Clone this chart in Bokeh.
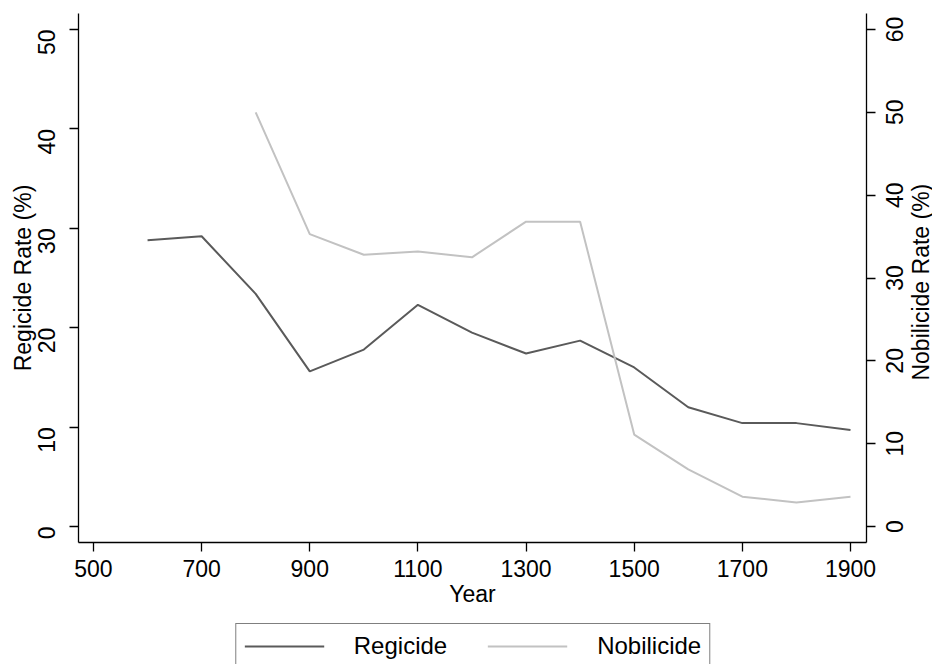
import math

from bokeh.core.properties import value
from bokeh.embed import file_html
from bokeh.layouts import column, row
from bokeh.models import (ColumnDataSource, Legend, LegendItem, LinearAxis,
                          Range1d)
from bokeh.plotting import figure
from bokeh.resources import INLINE

# Rates per century (%)
years = [600, 700, 800, 900, 1000, 1100, 1200, 1300, 1400, 1500, 1600, 1700, 1800, 1900]
regicide = [28.8, 29.2, 23.4, 15.6, 17.8, 22.3, 19.5, 17.4, 18.7, 16.0, 12.0, 10.4, 10.4, 9.7]

nob_years = [800, 900, 1000, 1100, 1200, 1300, 1400, 1500, 1600, 1700, 1800, 1900]
nobilicide = [50.0, 35.3, 32.8, 33.2, 32.5, 36.8, 36.8, 11.1, 6.9, 3.6, 2.9, 3.6]

x_ticks = [500, 700, 900, 1100, 1300, 1500, 1700, 1900]
left_ticks = [0, 10, 20, 30, 40, 50]
right_ticks = [0, 10, 20, 30, 40, 50, 60]

FONT = "Liberation Sans"
DARK = "#5a5a5a"
LIGHT = "#c2c2c2"
FS = "23px"

TOP, BOTTOM = 13, 80          # borders shared by the plot and its right-hand label strip
FRAME_W, FRAME_H = 788, 529
LEFT, RIGHT = 78, 12
SIDE_W = 932 - (LEFT + FRAME_W + RIGHT)
LEGEND_H = 664 - (TOP + FRAME_H + BOTTOM)

x_range = Range1d(472.3, 1929.6)
y_range = Range1d(-1.61, 51.61)
nob_range = Range1d(-1.93, 61.93)

reg_src = ColumnDataSource(dict(x=years, y=regicide))
nob_src = ColumnDataSource(dict(x=nob_years, y=nobilicide))

# ---- main plot -------------------------------------------------------------
p = figure(
    frame_width=FRAME_W, frame_height=FRAME_H,
    x_range=x_range, y_range=y_range,
    output_backend="svg", toolbar_location=None,
    min_border_left=LEFT, min_border_right=RIGHT,
    min_border_top=TOP, min_border_bottom=BOTTOM,
)
p.extra_y_ranges = {"nob": nob_range}
p.outline_line_color = None
p.xgrid.visible = False
p.ygrid.visible = False

p.line("x", "y", source=reg_src, line_color=DARK, line_width=2)
p.line("x", "y", source=nob_src, line_color=LIGHT, line_width=2, y_range_name="nob")

right = LinearAxis(y_range_name="nob")
p.add_layout(right, "right")


def style_axis(ax, ticks):
    ax.ticker = ticks
    ax.axis_line_color = "black"
    ax.axis_line_width = 1.3
    ax.major_tick_line_color = "black"
    ax.major_tick_line_width = 1.3
    ax.major_tick_out = 9
    ax.major_tick_in = 0
    ax.minor_tick_line_color = None
    ax.major_label_text_font = FONT
    ax.major_label_text_font_size = FS
    ax.major_label_text_color = "black"
    ax.axis_label_text_font = FONT
    ax.axis_label_text_font_size = FS
    ax.axis_label_text_font_style = "normal"
    ax.axis_label_text_color = "black"


xa = p.xaxis[0]
style_axis(xa, x_ticks)
xa.axis_label = "Year"
xa.major_label_standoff = 8
xa.axis_label_standoff = 1

la = p.yaxis[0]
style_axis(la, left_ticks)
la.axis_label = "Regicide Rate (%)"
la.major_label_orientation = math.pi / 2
la.major_label_text_align = "center"
la.major_label_standoff = 23
la.axis_label_standoff = -9

# right axis keeps its line and ticks; its rotated labels sit in the strip beside it
style_axis(right, right_ticks)
right.major_label_overrides = {t: "" for t in right_ticks}
right.major_label_standoff = 0

# ---- right-hand label strip (shares the nobilicide scale) ------------------
side = figure(
    width=SIDE_W, height=TOP + FRAME_H + BOTTOM,
    x_range=Range1d(0, SIDE_W), y_range=nob_range,
    output_backend="svg", toolbar_location=None,
    min_border_left=0, min_border_right=0,
    min_border_top=TOP, min_border_bottom=BOTTOM,
)
side.axis.visible = False
side.grid.visible = False
side.outline_line_color = None

tick_src = ColumnDataSource(dict(
    x=[894 - (LEFT + FRAME_W + RIGHT)] * len(right_ticks),
    y=right_ticks,
    text=[str(t) for t in right_ticks],
))
side.text("x", "y", text="text", source=tick_src, angle=math.pi / 2,
          text_align="center", text_baseline="middle",
          text_font=value(FONT), text_font_size=value(FS), text_color="black")
title_src = ColumnDataSource(dict(
    x=[920 - (LEFT + FRAME_W + RIGHT)],
    y=[(nob_range.start + nob_range.end) / 2 - 0.5],
    text=["Nobilicide Rate (%)"],
))
side.text("x", "y", text="text", source=title_src, angle=math.pi / 2,
          text_align="center", text_baseline="middle",
          text_font=value(FONT), text_font_size=value(FS), text_color="black")

# ---- legend strip: same series, viewed through a window that hides them ----
lg = figure(
    width=932, height=LEGEND_H,
    x_range=Range1d(0, 1), y_range=Range1d(-1, 0),
    output_backend="svg", toolbar_location=None,
    min_border_left=13, min_border_right=0, min_border_top=0, min_border_bottom=0,
)
lg.axis.visible = False
lg.grid.visible = False
lg.outline_line_color = None
k1 = lg.line("x", "y", source=reg_src, line_color=DARK, line_width=2)
k2 = lg.line("x", "y", source=nob_src, line_color=LIGHT, line_width=2)

legend = Legend(
    items=[LegendItem(label="Regicide", renderers=[k1]),
           LegendItem(label="Nobilicide", renderers=[k2])],
    orientation="horizontal",
    location="top",
    label_text_font=FONT,
    label_text_font_size="24px",
    label_text_color="black",
    glyph_width=80,
    label_standoff=30,
    spacing=40,
    padding=8,
    margin=1,
    border_line_color="black",
    border_line_width=1.3,
)
lg.add_layout(legend)

layout = column(row(p, side), lg)

open("out.html", "w").write(file_html(layout, INLINE))
